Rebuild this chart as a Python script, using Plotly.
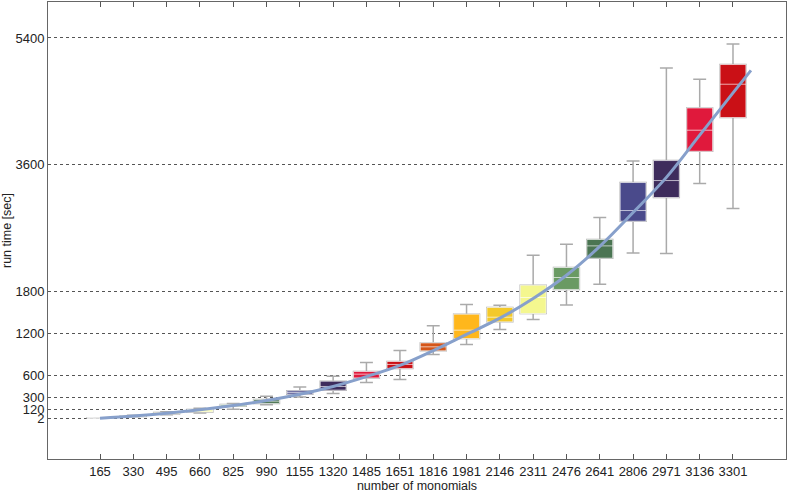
import plotly.graph_objects as go

# number of monomials (x categories)
monomials = [165, 330, 495, 660, 825, 990, 1155, 1320, 1485, 1651,
             1816, 1981, 2146, 2311, 2476, 2641, 2806, 2971, 3136, 3301]

# box statistics (seconds)
lo = [1, 20, 50, 75, 128, 189, 302, 351, 507, 550,
      904, 1046, 1260, 1401, 1609, 1903, 2347, 2339, 3333, 2978]
q1 = [2, 25, 60, 89, 170, 209, 341, 398, 572, 706,
      956, 1131, 1368, 1487, 1828, 2272, 2797, 3134, 3791, 4270]
med = [3, 30, 70, 100, 185, 241, 365, 450, 625, 763,
       1013, 1250, 1434, 1714, 1998, 2447, 2949, 3375, 4090, 4743]
q3 = [4, 35, 80, 123, 195, 266, 388, 525, 663, 805,
      1069, 1477, 1572, 1889, 2140, 2538, 3347, 3659, 4406, 5023]
hi = [6, 42, 90, 142, 209, 312, 444, 596, 791, 961,
      1311, 1614, 1605, 2315, 2471, 2850, 3654, 4974, 4814, 5315]

# fitted curve through the medians
fit_x = [165, 330, 495, 660, 825, 990, 1155, 1320, 1485, 1651, 1816,
         1981, 2146, 2311, 2476, 2641, 2806, 2971, 3136, 3301, 3390]
fit_y = [0, 30, 70, 120, 180, 250, 340, 450, 590, 750, 960,
         1190, 1420, 1700, 2030, 2440, 2920, 3420, 4020, 4620, 4940]

y_ticks = [2, 120, 300, 600, 1200, 1800, 3600, 5400]

palette = ["#d4561a", "#ffb71c", "#f3c92a", "#f4f78f", "#6a9a63",
           "#4b7553", "#4a4a8b", "#3e2c5c", "#e0193c", "#ca1016"]

fig = go.Figure()

for i, n in enumerate(monomials):
    col = palette[i % 10]
    # whiskers + caps in gray
    fig.add_trace(go.Box(
        x=[n], q1=[q1[i]], median=[med[i]], q3=[q3[i]],
        lowerfence=[lo[i]], upperfence=[hi[i]],
        width=128, whiskerwidth=0.5,
        fillcolor=col, line=dict(color="#aaaaaa", width=1.5),
        hoverinfo="skip", showlegend=False))
    # box body with light outline and white median
    fig.add_trace(go.Box(
        x=[n], q1=[q1[i]], median=[med[i]], q3=[q3[i]],
        lowerfence=[q1[i]], upperfence=[q3[i]],
        width=128, whiskerwidth=0,
        fillcolor=col, line=dict(color="rgba(255,255,255,0.65)", width=1),
        hoverinfo="skip", showlegend=False))

fig.add_trace(go.Scatter(
    x=fit_x, y=fit_y, mode="lines",
    line=dict(color="#87a0cb", width=3, shape="spline"),
    hoverinfo="skip", showlegend=False))

fig.update_layout(
    width=789, height=494,
    margin=dict(l=48, r=3, t=2, b=35),
    plot_bgcolor="white", paper_bgcolor="white",
    font=dict(family="Liberation Sans, Arial, sans-serif", size=13, color="#222"),
    boxmode="overlay",
)

fig.update_xaxes(
    range=[-92.6, 3563.6], automargin=False,
    tickvals=monomials, ticktext=[str(m) for m in monomials],
    ticks="inside", ticklen=5, tickcolor="#555",
    showgrid=False, zeroline=False,
    showline=True, linecolor="#666", linewidth=1, mirror="allticks",
    title=dict(text="number of monomials", standoff=2, font=dict(size=12.5)),
)

fig.update_yaxes(
    range=[-580, 5911], automargin=False,
    tickvals=y_ticks, ticktext=[str(t) for t in y_ticks],
    ticks="", showgrid=True, gridcolor="#555", griddash="dot", gridwidth=1,
    zeroline=False,
    showline=True, linecolor="#666", linewidth=1, mirror=True,
    title=dict(text="run time [sec]", standoff=2, font=dict(size=12.5)),
)

# page default body margin would shift the figure by 8px
fig.write_html("out.html", config={"displayModeBar": False},
               post_script="document.body.style.margin='0';")
